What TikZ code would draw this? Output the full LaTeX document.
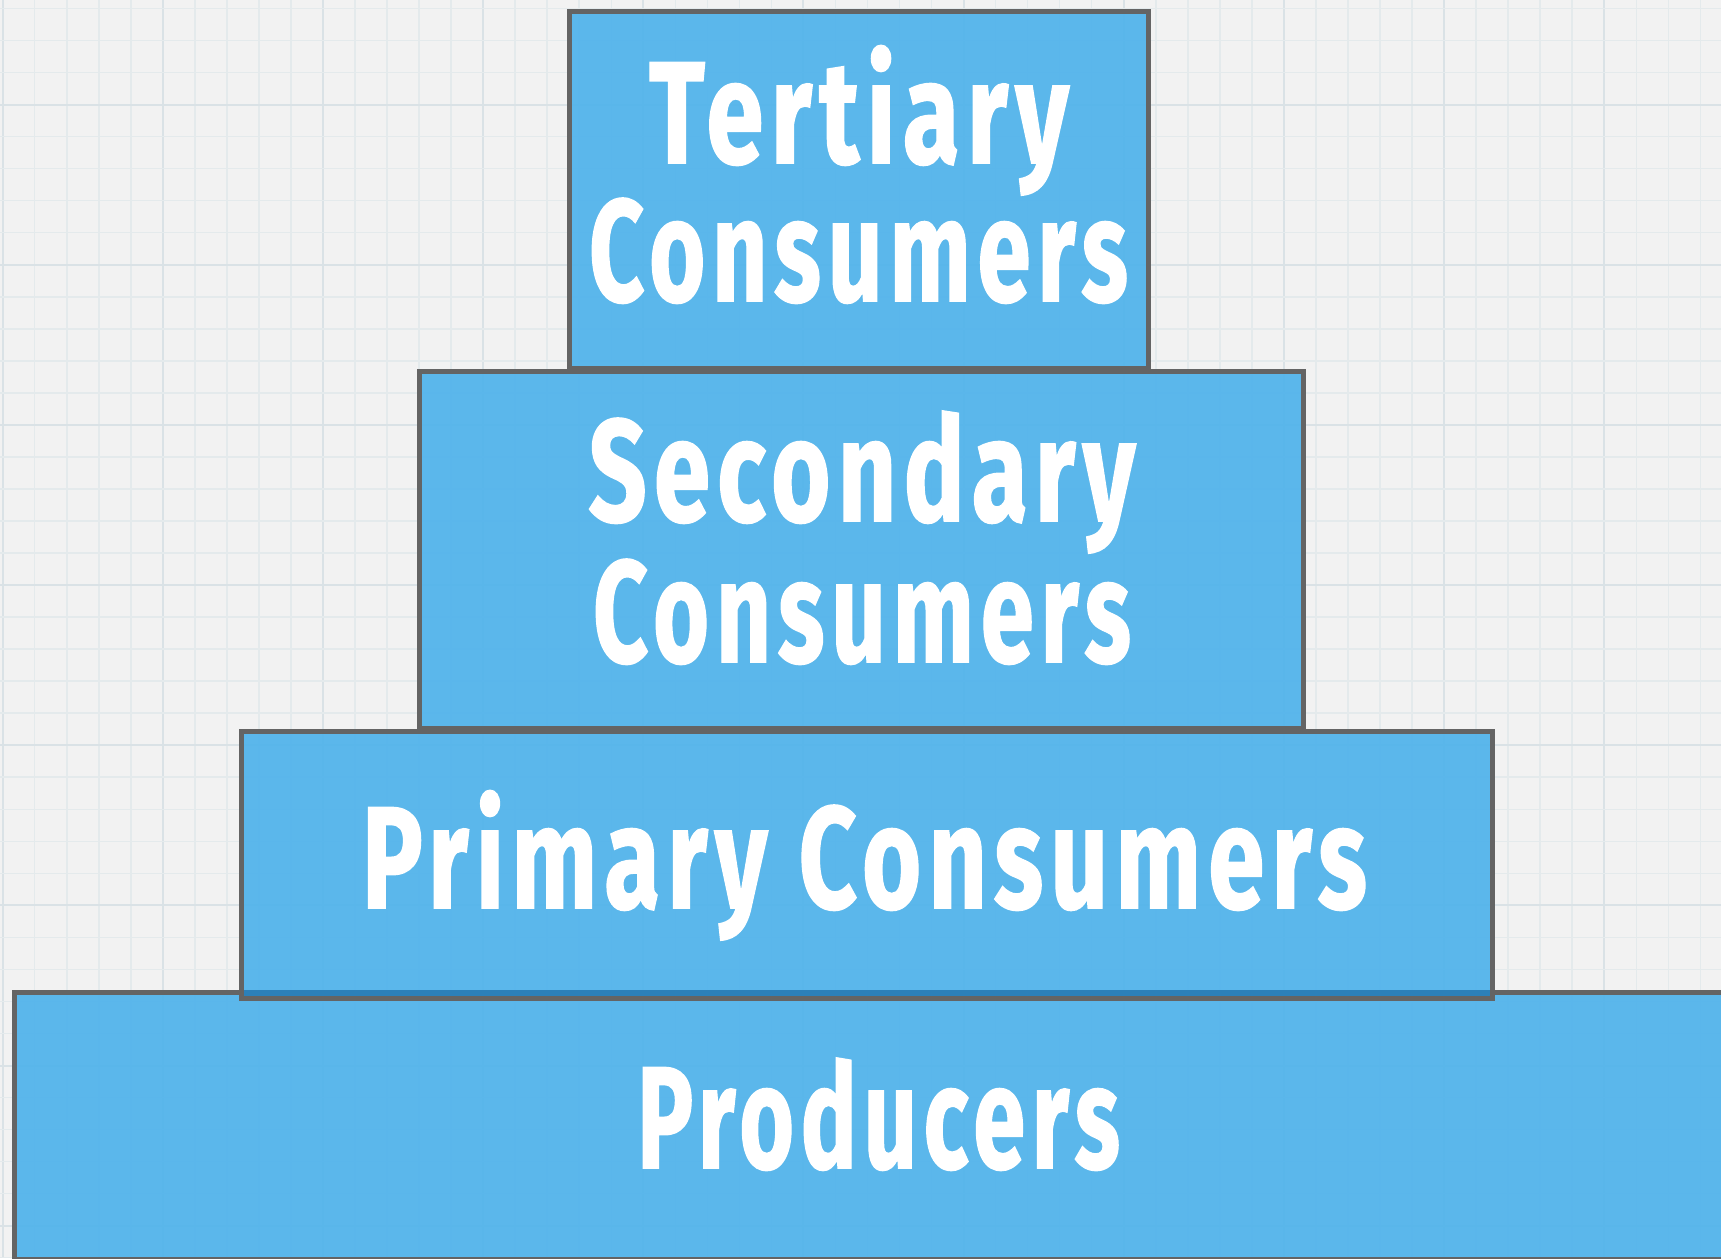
\documentclass[tikz,border=0pt]{standalone}
\usepackage{fontspec}
\setmainfont{Fira Sans}
\newfontfamily\lblfont[LetterSpace=7,BoldFeatures={FakeBold=1.2}]{Fira Sans}
\usepackage{graphicx}
\definecolor{bgc}{RGB}{242,242,242}
\definecolor{gridminor}{RGB}{228,234,236}
\definecolor{gridmajor}{RGB}{218,226,230}
\definecolor{layerfill}{RGB}{80,179,235}
\definecolor{layerdraw}{RGB}{100,100,100}
\definecolor{stripc}{RGB}{44,128,185}
\newsavebox\lblbox
\newcommand\fitw[2]{\sbox\lblbox{#2}\pgfmathsetmacro\fitfac{#1/\the\wd\lblbox}\scalebox{\fitfac}[1]{\usebox\lblbox}}
\tikzset{
  layer/.style={rectangle, draw=layerdraw, line width=5pt, fill=layerfill, fill opacity=0.93, draw opacity=1, inner sep=0pt, outer sep=0pt},
  lbl/.style={anchor=base, text=white, inner sep=0pt, font=\fontsize{145}{145}\lblfont\bfseries},
  minorline/.style={draw=gridminor, line width=1.5pt},
  majorline/.style={draw=gridmajor, line width=2pt}
}
\begin{document}
\begin{tikzpicture}[x=1pt,y=-1pt]
\useasboundingbox (0,0) rectangle (1721,1258);
\clip (0,0) rectangle (1721,1258);
\fill[bgc] (0,0) rectangle (1721,1258);
% grid
\foreach \i in {0,...,54} {
  \pgfmathsetmacro\gx{2.7+32.03*\i}
  \pgfmathtruncatemacro\m{mod(\i,5)}
  \ifnum\m=0 \draw[majorline] (\gx,0) -- (\gx,1258); \else \draw[minorline] (\gx,0) -- (\gx,1258); \fi
}
\foreach \j in {0,...,40} {
  \pgfmathsetmacro\gy{8.5+32.03*\j}
  \pgfmathtruncatemacro\m{mod(\j+2,5)}
  \ifnum\m=0 \draw[majorline] (0,\gy) -- (1721,\gy); \else \draw[minorline] (0,\gy) -- (1721,\gy); \fi
}
% layers (bottom to top)
\node[layer, minimum width=1745.5pt, minimum height=267pt] (prod) at (887.25,1126) {};
\node[layer, minimum width=1251pt, minimum height=266.5pt] (prim) at (867,864.75) {};
\fill[stripc] (243.5,990) rectangle (1490,995.5);
\node[layer, minimum width=883.5pt, minimum height=357pt] (sec) at (861.25,550) {};
\node[layer, minimum width=578.5pt, minimum height=356.5pt] (ter) at (858.75,189.75) {};
% labels
\node[lbl] (terA) at (859,163) {\fitw{420}{Tertiary}};
\node[lbl] (terB) at (858.5,301) {\fitw{539}{Consumers}};
\node[lbl] (secA) at (862,521) {\fitw{547}{Secondary}};
\node[lbl] (secB) at (862,662) {\fitw{538}{Consumers}};
\node[lbl] (primA) at (864.5,908) {\fitw{1005}{Primary Consumers}};
\node[lbl] (prodA) at (878.5,1168) {\fitw{483}{Producers}};
\end{tikzpicture}
\end{document}
